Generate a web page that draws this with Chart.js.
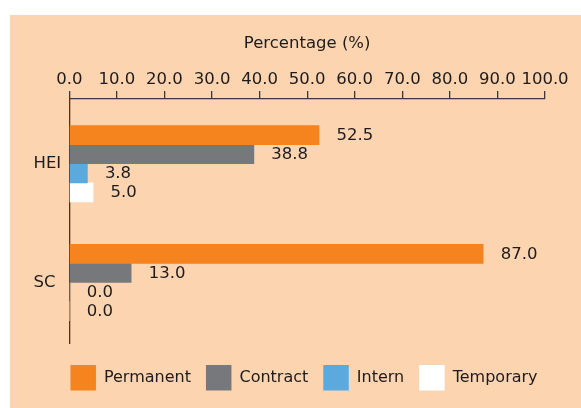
<!DOCTYPE html>
<html><head><meta charset="utf-8">
<script src="https://cdn.jsdelivr.net/npm/chart.js@4/dist/chart.umd.min.js"></script>
<style>html,body{margin:0;padding:0;background:#fff;}canvas{display:block;}</style>
</head><body>
<canvas id="c" width="581" height="408"></canvas>
<script>
// ---- data ----
const categories = ['HEI', 'SC'];
const seriesNames = ['Permanent', 'Contract', 'Intern', 'Temporary'];
const permanent = [52.5, 87.0];
const contract = [38.8, 13.0];
const intern = [3.8, 0.0];
const temporary = [5.0, 0.0];
const xTickValues = [0, 10, 20, 30, 40, 50, 60, 70, 80, 90, 100];
const axisTitle = 'Percentage (%)';

// ---- styles ----
const seriesColors = ['#F5841F', '#77787B', '#5CA9DD', '#FFFFFF'];
const panelColor = '#FCD4B0';
const textColor = '#1E1B1C';
const axisColor = '#3A3838';
const FONT = '"DejaVu Sans", sans-serif';

const seriesValues = [permanent, contract, intern, temporary];

const datasets = seriesNames.map((name, si) => ({
  label: name,
  data: categories.map((c, ci) => ({ x: seriesValues[si][ci], y: ci })),
  backgroundColor: seriesColors[si],
  borderWidth: 0,
  barThickness: 19.1
}));

const panelBg = {
  id: 'panelBg',
  beforeDraw(chart) {
    const ctx = chart.ctx;
    ctx.save();
    ctx.fillStyle = panelColor;
    ctx.fillRect(10, 15, chart.width - 10, chart.height - 15);
    ctx.restore();
  }
};

const valueLabels = {
  id: 'valueLabels',
  afterDatasetsDraw(chart) {
    const ctx = chart.ctx;
    ctx.save();
    ctx.font = '16.5px ' + FONT;
    ctx.fillStyle = textColor;
    ctx.textAlign = 'left';
    ctx.textBaseline = 'middle';
    chart.data.datasets.forEach((ds, di) => {
      chart.getDatasetMeta(di).data.forEach((el, i) => {
        const v = ds.data[i].x;
        ctx.fillText(v.toFixed(1), el.x + 17.5, el.y + 0.5);
      });
    });
    ctx.restore();
  }
};

new Chart(document.getElementById('c'), {
  type: 'bar',
  data: { datasets },
  options: {
    indexAxis: 'y',
    responsive: false,
    animation: false,
    events: [],
    layout: { padding: { left: 33.5, right: 6.5, top: 33.6, bottom: 7.5 } },
    scales: {
      x: {
        type: 'linear',
        position: 'top',
        min: xTickValues[0],
        max: xTickValues[xTickValues.length - 1],
        afterBuildTicks: (s) => { s.ticks = xTickValues.map(v => ({ value: v })); },
        ticks: {
          callback: (v) => Number(v).toFixed(1),
          font: { family: FONT, size: 16.5 },
          color: textColor,
          padding: 1,
          maxRotation: 0,
          autoSkip: false
        },
        grid: {
          display: true,
          drawOnChartArea: false,
          drawTicks: true,
          tickLength: 8,
          color: axisColor,
          lineWidth: 1.3
        },
        border: { display: true, color: axisColor, width: 1.3 },
        title: {
          display: true,
          text: axisTitle,
          font: { family: FONT, size: 16.5 },
          color: textColor,
          padding: { top: 0, bottom: 15.8 }
        }
      },
      y: {
        type: 'linear',
        reverse: true,
        offset: false,
        min: -0.545,
        max: 1.509,
        afterBuildTicks: (s) => { s.ticks = categories.map((c, i) => ({ value: i })); },
        afterFit: (s) => { s.width = 35.8; },
        ticks: {
          callback: (v) => categories[v] !== undefined ? categories[v] : '',
          font: { family: FONT, size: 16.5 },
          color: textColor,
          crossAlign: 'far',
          autoSkip: false
        },
        grid: { display: false, drawTicks: false, offset: false },
        border: { display: true, color: axisColor, width: 1.3 }
      },
      yRight: {
        type: 'linear',
        position: 'right',
        axis: 'y',
        display: true,
        afterFit: (s) => { s.width = 29.5; },
        ticks: { display: false },
        grid: { display: false, drawTicks: false },
        border: { display: false }
      }
    },
    plugins: {
      legend: {
        position: 'bottom',
        align: 'center',
        title: { display: true, text: '', font: { size: 5, lineHeight: 1.4 }, padding: 0 },
        labels: {
          boxWidth: 25.5,
          boxHeight: 25.5,
          padding: 15,
          font: { family: FONT, size: 16 },
          color: textColor
        }
      },
      tooltip: { enabled: false }
    }
  },
  plugins: [panelBg, valueLabels]
});
</script>
</body></html>
